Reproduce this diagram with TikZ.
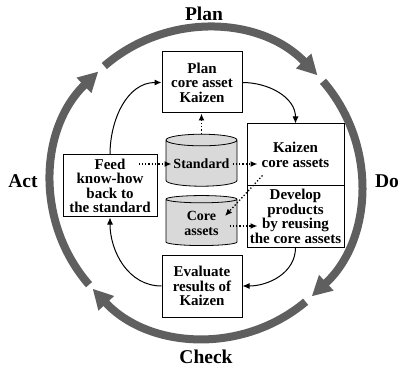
\documentclass[tikz,border=0pt]{standalone}
\usepackage{fontspec}
\setmainfont{Liberation Serif}
\usetikzlibrary{arrows.meta,shapes.geometric,positioning,calc}
\tikzset{>={Latex[length=7pt,width=6pt]}}
\definecolor{cycgray}{HTML}{5F5F5F}
\definecolor{dbgray}{HTML}{D9D9D9}

\begin{document}
\begin{tikzpicture}[x=1pt,y=1pt,font=\bfseries\fontsize{15}{14.5}\selectfont]

\tikzstyle{stagebox}=[draw,line width=1pt,align=center,inner sep=1pt,minimum width=80pt,minimum height=61pt]
\tikzstyle{db}=[cylinder,shape border rotate=90,aspect=0.2,draw,fill=dbgray,line width=0.8pt,minimum width=71pt,minimum height=52pt,align=center,inner sep=1pt,font=\bfseries\fontsize{14}{15}\selectfont]
\tikzstyle{flow}=[->,line width=1pt]
\tikzstyle{dots}=[->,dotted,line width=1.3pt]
\tikzstyle{cyc}=[line width=8pt,color=cycgray,-{Triangle[length=20pt,width=20pt]}]
\tikzstyle{phase}=[font=\bfseries\fontsize{19.5}{20}\selectfont]

\useasboundingbox (0,0) rectangle (399,370);

% the big cycle
\coordinate (c) at (206,187);
\draw[cyc] ($(c)+(221:155)$) arc[start angle=221,end angle=134,radius=155pt];
\draw[cyc] ($(c)+(131:155)$) arc[start angle=131,end angle=44,radius=155pt];
\draw[cyc] ($(c)+(41:155)$) arc[start angle=41,end angle=-47,radius=155pt];
\draw[cyc] ($(c)+(-50:155)$) arc[start angle=-50,end angle=-137,radius=155pt];

\node[phase] (plantag) at (204,356.5) {Plan};
\node[phase] (dotag) at (387,189) {Do};
\node[phase] (checktag) at (206,13) {Check};
\node[phase] (acttag) at (23,189) {Act};

% steps
\node[stagebox] (plan) at (202,287.5) {Plan\\core asset\\Kaizen};
\node[stagebox,minimum width=97pt,minimum height=62pt] (kaizen) at (295.5,215) {Kaizen\\core assets};
\node[stagebox,minimum width=97pt,below=-1pt of kaizen,font=\bfseries\fontsize{15}{13.5}\selectfont] (develop) {Develop\\products\\by reusing\\the core assets};
\node[stagebox,minimum width=94pt,minimum height=62pt] (feed) at (110,184) {Feed\\know-how\\back to\\the standard};
\node[stagebox,minimum height=62pt] (evaluate) at (202,84) {Evaluate\\results of\\Kaizen};

% stores
\node[db] (std) at (201.5,206) {Standard};
\node[db,minimum height=50pt] (core) at (201.5,147) {Core\\assets};

\draw[flow] (feed.north) to[out=90,in=180] (plan.west);
\draw[flow] (plan.east) to[out=0,in=90] (kaizen.north);
\draw[flow] (develop.south) to[out=-90,in=0] (evaluate.east);
\draw[flow] (evaluate.west) to[out=180,in=-90] (feed.south);

\draw[dots] (std.north) -- (std.north |- plan.south);
\draw[dots] ($(feed.east |- std.center)+(-19,0)$) -- ($(std.center)+(-30,0)$);
\draw[dots] ($(std.center)+(31,0)$) -- ($(kaizen.west |- std.center)+(11,0)$);
\draw[dots] ($(kaizen.south west)+(16,11)$) -- ($(core.center)+(23.5,7)$);
\draw[dots] ($(core.center)+(28,-3)$) -- ($(develop.west |- core.center)+(11,-3)$);
\end{tikzpicture}
\end{document}
